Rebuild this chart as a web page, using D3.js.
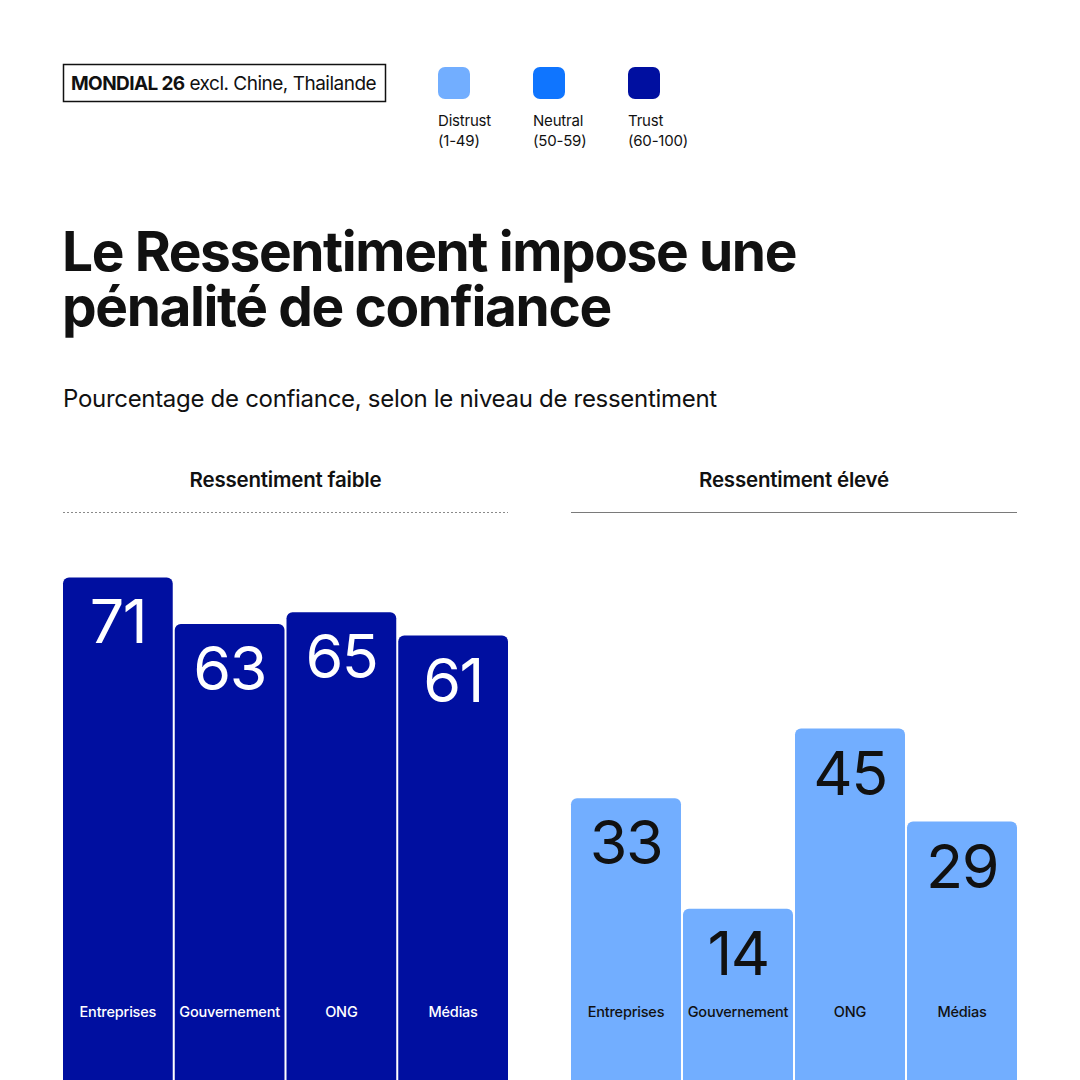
<!DOCTYPE html>
<html>
<head>
<meta charset="utf-8">
<script src="https://cdn.jsdelivr.net/npm/d3@7"></script>
<style>
  html, body { margin: 0; padding: 0; background: #fff; }
  svg { display: block; font-family: Inter, "Noto Sans", sans-serif; }
</style>
</head>
<body>
<div id="chart"></div>
<script>
const categories = ["Entreprises", "Gouvernement", "ONG", "Médias"];
const lowResentment = [71, 63, 65, 61];
const highResentment = [33, 14, 45, 29];
const panelTitles = ["Ressentiment faible", "Ressentiment élevé"];
const legendNames = ["Distrust", "Neutral", "Trust"];
const legendRanges = ["(1-49)", "(50-59)", "(60-100)"];
const legendColors = ["#72aeff", "#0f75ff", "#000fa0"];

const W = 1080, H = 1080;
const ink = "#111111";

const svg = d3.select("#chart")
  .append("svg")
  .attr("width", W)
  .attr("height", H);

// scope box
const box = svg.append("g");
box.append("rect")
  .attr("x", 63.5).attr("y", 64.5)
  .attr("width", 322).attr("height", 37)
  .attr("fill", "none")
  .attr("stroke", ink)
  .attr("stroke-width", 1.5);
const boxText = box.append("text")
  .attr("x", 71).attr("y", 90)
  .attr("font-size", 19)
  .attr("fill", ink);
boxText.append("tspan").attr("font-weight", 700).attr("letter-spacing", -0.6).text("MONDIAL 26");
boxText.append("tspan").attr("font-weight", 400).attr("letter-spacing", -0.5).text(" excl. Chine, Thailande");

// legend
const legend = svg.append("g")
  .selectAll("g")
  .data(legendNames)
  .join("g")
  .attr("transform", (d, i) => `translate(${438 + i * 95},0)`);
legend.append("rect")
  .attr("x", 0).attr("y", 67)
  .attr("width", 32).attr("height", 32)
  .attr("rx", 7)
  .attr("fill", (d, i) => legendColors[i]);
legend.append("text")
  .attr("y", 126)
  .attr("font-size", 15)
  .attr("letter-spacing", -0.2)
  .attr("fill", ink)
  .text(d => d);
legend.append("text")
  .attr("y", 146)
  .attr("font-size", 15)
  .attr("letter-spacing", -0.2)
  .attr("fill", ink)
  .text((d, i) => legendRanges[i]);

// title + subtitle
const titleLines = ["Le Ressentiment impose une", "pénalité de confiance"];
svg.append("g")
  .selectAll("text")
  .data(titleLines)
  .join("text")
  .attr("x", 62)
  .attr("y", (d, i) => 271 + i * 55)
  .attr("font-size", 55)
  .attr("font-weight", 700)
  .attr("letter-spacing", -1.4)
  .attr("fill", ink)
  .text(d => d);

svg.append("text")
  .attr("x", 63).attr("y", 407)
  .attr("font-size", 24)
  .attr("letter-spacing", -0.3)
  .attr("fill", ink)
  .text("Pourcentage de confiance, selon le niveau de ressentiment");

// scales
const y = d3.scaleLinear().domain([0, 100]).range([990, 409]);
const colour = d3.scaleThreshold().domain([50, 60]).range(legendColors);
const textColour = d3.scaleThreshold().domain([50, 60]).range([ink, "#ffffff", "#ffffff"]);

const panels = [
  { x0: 63, x1: 508, values: lowResentment, dashed: true },
  { x0: 571, x1: 1017, values: highResentment, dashed: false }
];

panels.forEach((p, pi) => {
  const g = svg.append("g");
  const cx = (p.x0 + p.x1) / 2;

  g.append("text")
    .attr("x", cx).attr("y", 487)
    .attr("text-anchor", "middle")
    .attr("font-size", 20.5)
    .attr("font-weight", 600)
    .attr("letter-spacing", -0.2)
    .attr("fill", ink)
    .text(panelTitles[pi]);

  g.append("line")
    .attr("x1", p.x0).attr("x2", p.x1)
    .attr("y1", 512.5).attr("y2", 512.5)
    .attr("stroke", p.dashed ? "#8a8a8a" : "#7a7a7a")
    .attr("stroke-width", 1)
    .attr("stroke-dasharray", p.dashed ? "2,2" : null);

  const x = d3.scaleBand()
    .domain(categories)
    .range([p.x0, p.x1])
    .paddingInner(0.018);

  const rows = categories.map((c, i) => ({ category: c, value: p.values[i] }));

  const bar = g.selectAll("g.bar")
    .data(rows)
    .join("g")
    .attr("class", "bar");

  bar.append("rect")
    .attr("x", d => x(d.category))
    .attr("y", d => y(d.value))
    .attr("width", x.bandwidth())
    .attr("height", d => H + 20 - y(d.value))
    .attr("rx", 6)
    .attr("fill", d => colour(d.value));

  bar.append("text")
    .attr("x", d => x(d.category) + x.bandwidth() / 2)
    .attr("y", d => y(d.value) + 66)
    .attr("text-anchor", "middle")
    .attr("font-size", 61)
    .attr("font-weight", 400)
    .attr("letter-spacing", -1.5)
    .attr("fill", d => textColour(d.value))
    .text(d => d.value);

  bar.append("text")
    .attr("x", d => x(d.category) + x.bandwidth() / 2)
    .attr("y", 1017)
    .attr("text-anchor", "middle")
    .attr("font-size", 14.5)
    .attr("font-weight", 500)
    .attr("letter-spacing", -0.2)
    .attr("fill", d => textColour(d.value))
    .text(d => d.category);
});
</script>
</body>
</html>
